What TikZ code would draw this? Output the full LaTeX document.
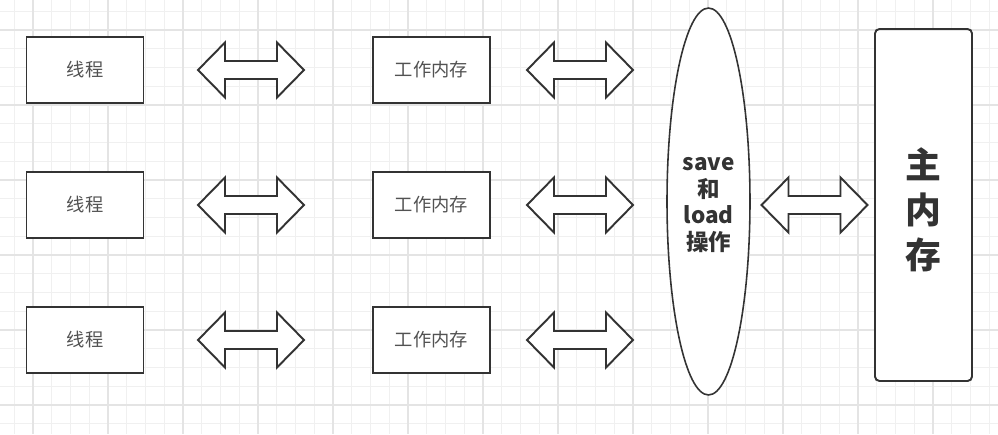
\documentclass[tikz,border=0pt]{standalone}
\usepackage{fontspec}
\setmainfont{Noto Sans CJK SC}
\usetikzlibrary{calc,shapes.geometric}
\definecolor{ink}{HTML}{333333}
\definecolor{gridminor}{HTML}{F0F0F0}
\definecolor{gridmajor}{HTML}{E4E4E4}
\tikzset{
	membox/.style={draw=ink, line width=1.1pt, fill=white, text=ink!85, font=\fontsize{10.4}{12}\selectfont, minimum width=2.34cm, minimum height=1.32cm},
	arrowline/.style={draw=ink, line width=1.1pt, fill=white, line join=miter}
}
\def\dblarrow(#1,#2){\draw[arrowline] ($(#1,#2)+(-53,0)$) -- ++(27,-27.5) -- ++(0,18.5) -- ++(52,0) -- ++(0,-18.5) -- ++(27,27.5) -- ++(-27,27.5) -- ++(0,-18.5) -- ++(-52,0) -- ++(0,18.5) -- cycle;}

\begin{document}
\begin{tikzpicture}[x=0.02cm, y=-0.02cm]
				\useasboundingbox (0,0) rectangle (998,434);
				\fill[white] (0,0) rectangle (998,434);
				
				% grid
				\foreach \i in {0,...,52}
					\draw[gridminor, line width=0.6pt] ({14.25+18.75*\i},0) -- ++(0,434);
				\foreach \i in {0,...,22}
					\draw[gridminor, line width=0.6pt] (0,{11.25+18.75*\i}) -- ++(998,0);
				\foreach \x in {33,108,...,933}
					\draw[gridmajor, line width=0.7pt] (\x,0) -- ++(0,434);
				\foreach \y in {30,105,...,405}
					\draw[gridmajor, line width=0.7pt] (0,\y) -- ++(998,0);
				
				% threads and working memory
				\node[membox] (thread1) at (85,70) {线程};
				\node[membox] (thread2) at (85,205) {线程};
				\node[membox] (thread3) at (85,340) {线程};
				\node[membox] (work1) at (431.5,70) {工作内存};
				\node[membox] (work2) at (431.5,205) {工作内存};
				\node[membox] (work3) at (431.5,340) {工作内存};
				
				\dblarrow(251,70)
				\dblarrow(251,205)
				\dblarrow(251,340)
				\dblarrow(580,70)
				\dblarrow(580,205)
				\dblarrow(580,340)
				
				% save / load
				\node[draw=ink, line width=0.9pt, fill=white, ellipse, inner sep=0pt, minimum width=1.66cm, minimum height=7.74cm] (saveload) at (708.5,201.5) {};
				\node[text=ink, align=center, font=\bfseries\fontsize{12.8}{15.3}\selectfont] (savetext) at (708.5,205) {save\\和\\load\\操作};
				
				\dblarrow(814.5,205)
				
				% main memory
				\node[draw=ink, line width=1.1pt, fill=white, rounded corners=2.5pt, minimum width=1.94cm, minimum height=7.04cm] (mainmem) at (923.5,205) {};
				\node[text=ink, align=center, font=\bfseries\fontsize{20.4}{25.5}\selectfont] (maintext) at (923.5,210) {主\\内\\存};
			\end{tikzpicture}
\end{document}
